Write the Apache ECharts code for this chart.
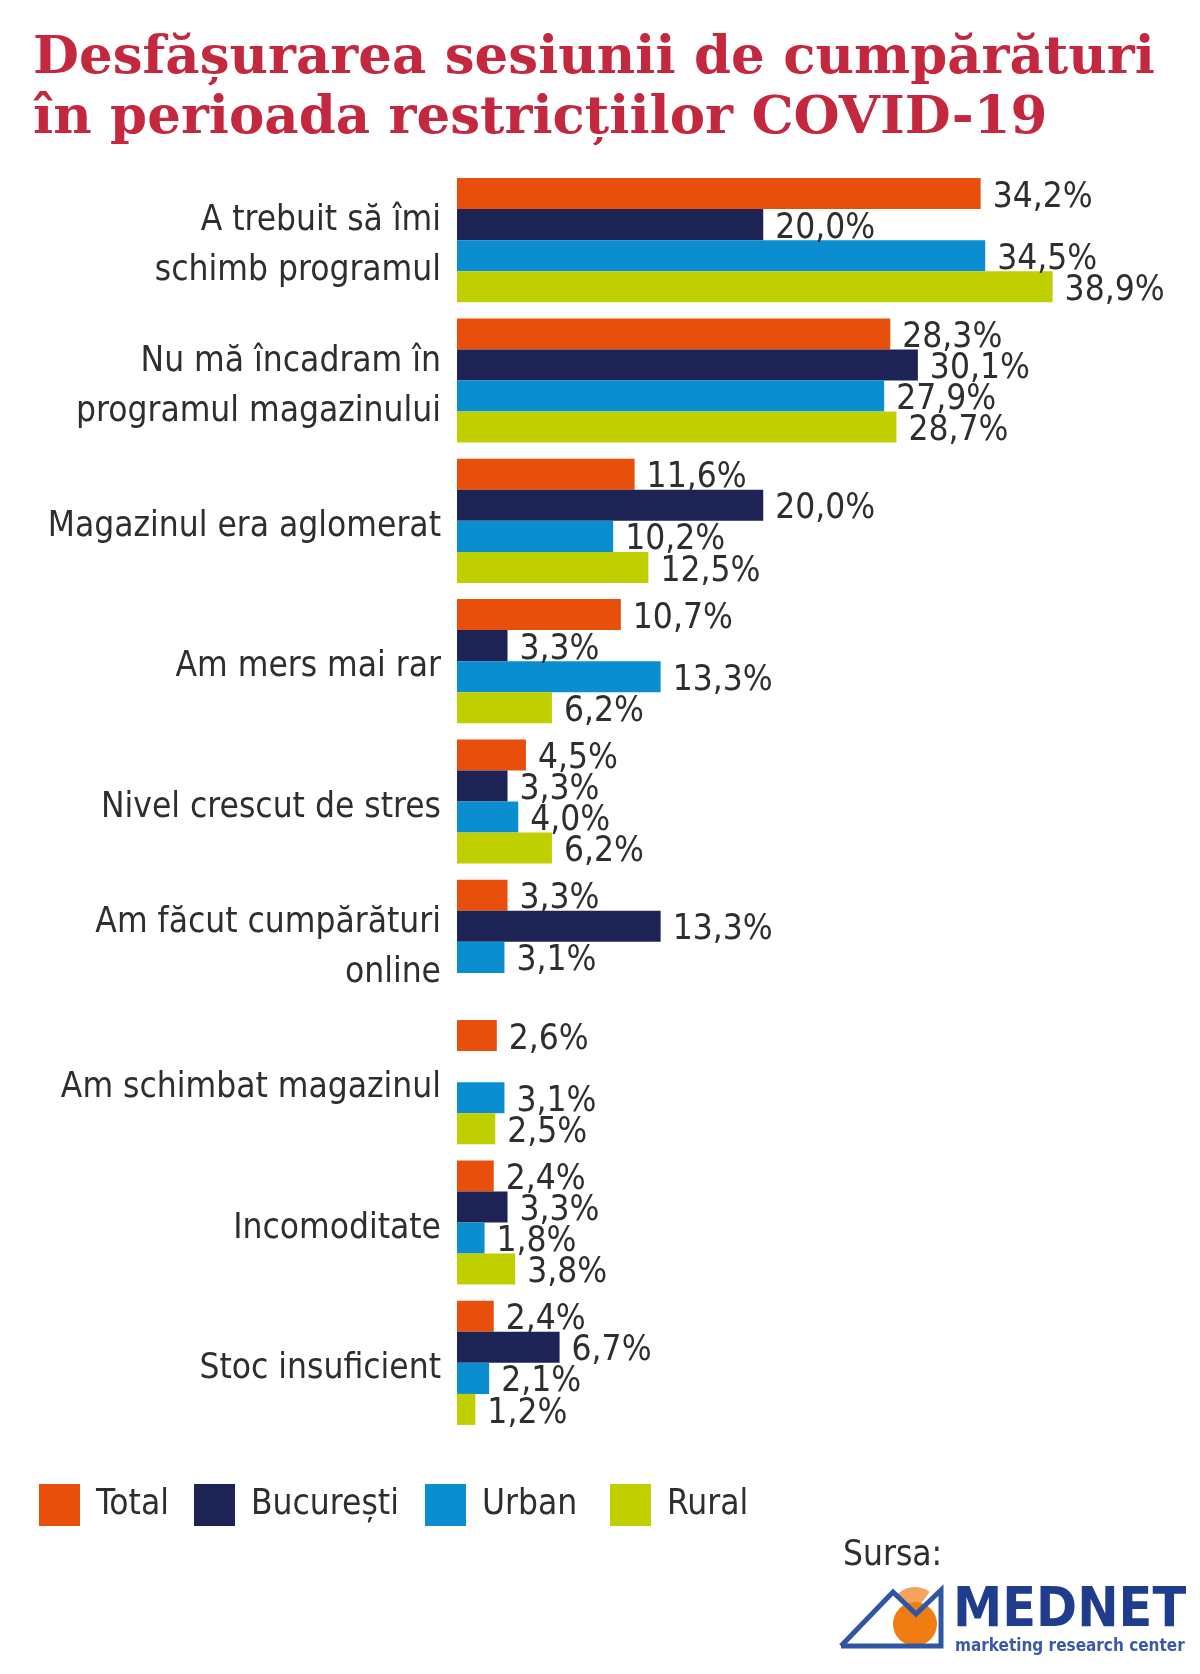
<!DOCTYPE html>
<html>
<head>
<meta charset="utf-8">
<script src="https://cdn.jsdelivr.net/npm/echarts@6/dist/echarts.min.js"></script>
<style>
  html, body { margin: 0; padding: 0; background: #ffffff; }
  #chart { width: 1200px; height: 1674px; }
</style>
</head>
<body>
<div id="chart"></div>
<script>
const categories = [
  "A trebuit să îmi\nschimb programul",
  "Nu mă încadram în\nprogramul magazinului",
  "Magazinul era aglomerat",
  "Am mers mai rar",
  "Nivel crescut de stres",
  "Am făcut cumpărături\nonline",
  "Am schimbat magazinul",
  "Incomoditate",
  "Stoc insuficient"
];
const seriesNames = ["Total", "București", "Urban", "Rural"];
const totalValues     = [34.2, 28.3, 11.6, 10.7, 4.5, 3.3, 2.6, 2.4, 2.4];
const bucurestiValues = [20.0, 30.1, 20.0, 3.3, 3.3, 13.3, null, 3.3, 6.7];
const urbanValues     = [34.5, 27.9, 10.2, 13.3, 4.0, 3.1, 3.1, 1.8, 2.1];
const ruralValues     = [38.9, 28.7, 12.5, 6.2, 6.2, null, 2.5, 3.8, 1.2];

const colors = ["#e84e0c", "#1d2354", "#0a8ed0", "#bfcf00"];
const labelFont = "'DejaVu Sans Condensed', 'Liberation Sans Narrow', 'Roboto', sans-serif";
const textColor = "#2e2e2e";

const valuesBySeries = [totalValues, bucurestiValues, urbanValues, ruralValues];

const chart = echarts.init(document.getElementById('chart'), null, { renderer: 'canvas' });

const series = seriesNames.map((name, i) => ({
  name: name,
  type: 'bar',
  data: valuesBySeries[i],
  itemStyle: { color: colors[i] },
  barGap: '0%',
  barCategoryGap: '11.5%',
  label: {
    show: true,
    position: 'right',
    distance: 12,
    offset: [0, 4],
    fontFamily: labelFont,
    fontSize: 35,
    color: textColor,
    formatter: p => (p.value == null ? '' : p.value.toFixed(1).replace('.', ',') + '%')
  }
}));

const legendLefts = [34, 189, 420, 605];
const legends = seriesNames.map((name, i) => ({
  data: [name],
  left: legendLefts[i],
  top: 1479,
  itemWidth: 41,
  itemHeight: 42,
  icon: 'rect',
  selectedMode: false,
  textStyle: {
    fontFamily: labelFont,
    fontSize: 35,
    color: textColor,
    padding: [0, 0, 0, 11]
  }
}));

const option = {
  backgroundColor: '#ffffff',
  animation: false,
  title: {
    text: "Desfășurarea sesiunii de cumpărături\nîn perioada restricțiilor COVID-19",
    left: 28,
    top: 24,
    textStyle: {
      fontFamily: "'DejaVu Serif', serif",
      fontWeight: 'bold',
      fontSize: 53,
      lineHeight: 60,
      color: '#c3283e'
    }
  },
  legend: legends,
  grid: { left: 457, top: 170, height: 1263, right: 54, containLabel: false },
  xAxis: {
    type: 'value',
    min: 0,
    max: 45,
    show: false
  },
  yAxis: {
    type: 'category',
    data: categories,
    inverse: true,
    axisLine: { show: false },
    axisTick: { show: false },
    splitLine: { show: false },
    axisLabel: {
      margin: 16,
      color: textColor,
      align: 'right',
      formatter: v => v.split('\n').map(l => '{a|' + l + '}').join('\n'),
      rich: {
        a: {
          fontFamily: labelFont,
          fontSize: 35,
          lineHeight: 50,
          padding: [12, 0, 0, 0],
          color: textColor,
          align: 'right'
        }
      }
    }
  },
  series: series,
  graphic: [
    {
      type: 'text',
      left: 843,
      top: 1538,
      style: { text: 'Sursa:', font: "35px " + labelFont, fill: textColor }
    },
    {
      type: 'sector',
      shape: { cx: 915, cy: 1612, r0: 0, r: 25, startAngle: -Math.PI * 0.8, endAngle: -Math.PI * 0.3 },
      style: { fill: '#f2a35d' },
      z: 0
    },
    {
      type: 'circle',
      shape: { cx: 915, cy: 1624, r: 22 },
      style: { fill: '#ef7d12' },
      z: 1
    },
    {
      type: 'polyline',
      shape: { points: [[841, 1646], [893, 1592], [916, 1614], [941, 1590], [941, 1646], [841, 1646]] },
      style: { stroke: '#2f56a3', lineWidth: 5, fill: null, lineJoin: 'miter' },
      z: 2
    },
    {
      type: 'text',
      left: 953,
      top: 1584,
      style: { text: 'MEDNET', font: "bold 55px 'DejaVu Sans Condensed', 'Liberation Sans', sans-serif", fill: '#1f3d8c' }
    },
    {
      type: 'text',
      left: 955,
      top: 1638,
      style: { text: 'marketing research center', font: "bold 17px 'DejaVu Sans Condensed', 'Liberation Sans', sans-serif", fill: '#3a5aa8' }
    }
  ]
};

chart.setOption(option);
</script>
</body>
</html>
